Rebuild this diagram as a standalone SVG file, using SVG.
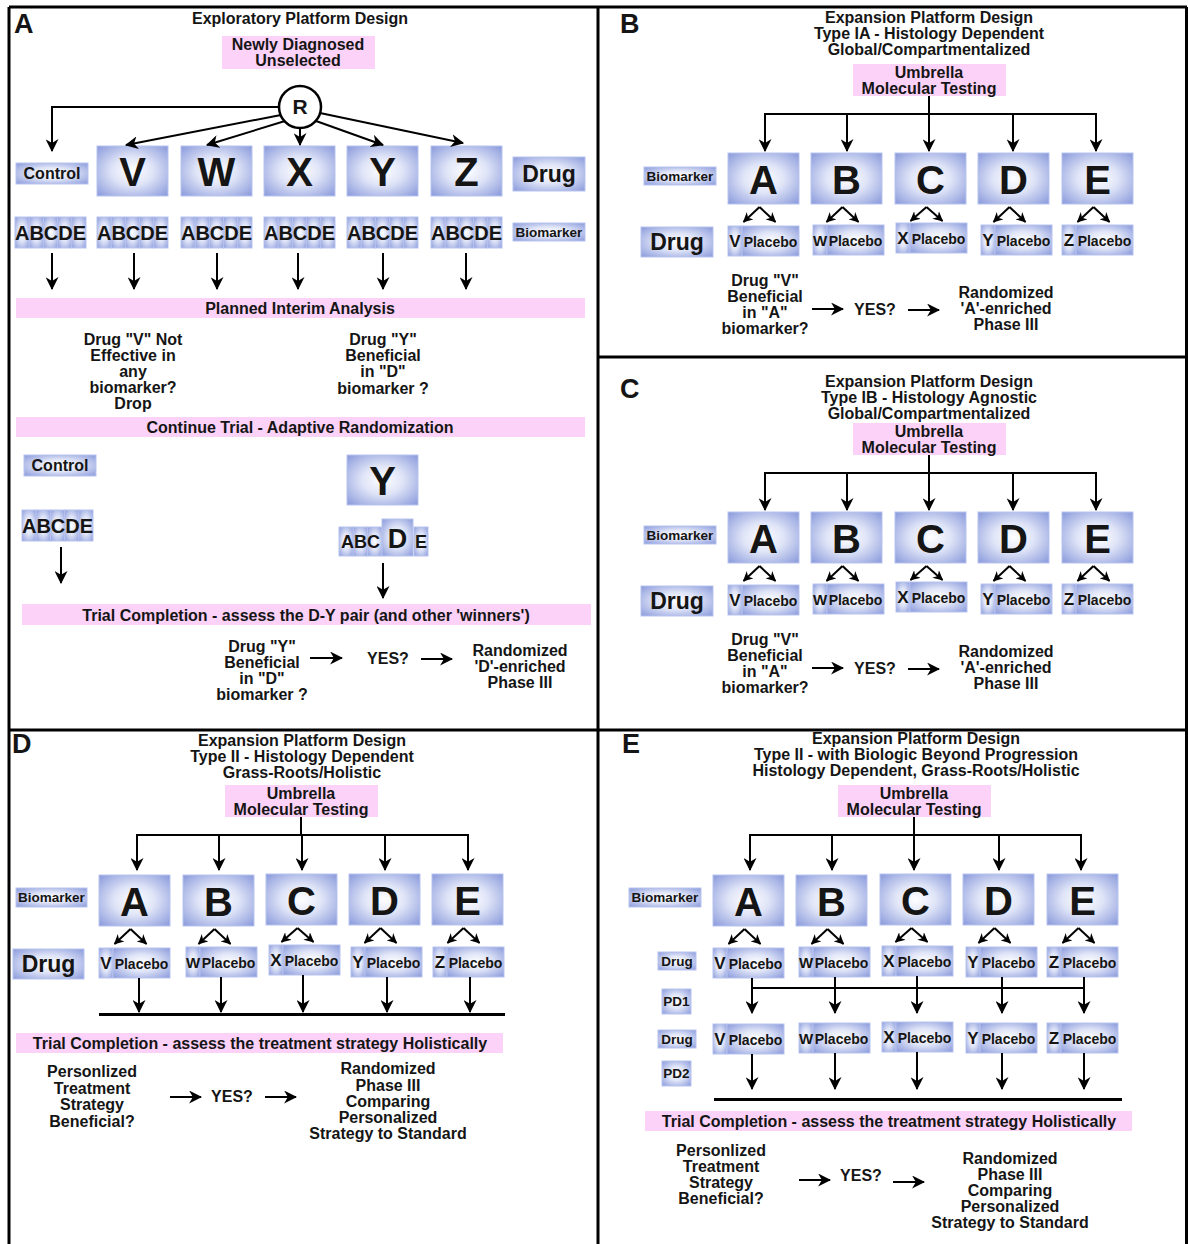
<svg xmlns="http://www.w3.org/2000/svg" xmlns:xlink="http://www.w3.org/1999/xlink" width="1188" height="1244" viewBox="0 0 1188 1244">
<style>
.t{font-family:"Liberation Sans",Arial,sans-serif;font-weight:bold;fill:#151515;text-anchor:middle;font-size:16px}
.lab{font-size:27px;text-anchor:start}
.big{font-size:40px}
.drug{font-size:23px}
.sm{font-size:13.5px}
.cell{font-size:20px}
.v{font-size:17px}
.w{font-size:15px}
.pl{font-size:14px}
.pk{fill:#fcd2f8}
.bx{fill:url(#bg);stroke:#b8c3ee;stroke-width:1}
.ln{stroke:#000;stroke-width:2;fill:none}
.ar{stroke:#000;stroke-width:2;fill:none;marker-end:url(#ah)}
.as{stroke:#000;stroke-width:2;fill:none;marker-end:url(#as)}
.bar{stroke:#000;stroke-width:3;fill:none}
.frame{stroke:#000;stroke-width:3;fill:none}
</style>
<defs>
<radialGradient id="bg" cx="0.5" cy="0.5" r="0.72">
<stop offset="0" stop-color="#ffffff"/>
<stop offset="0.4" stop-color="#dfe4f7"/>
<stop offset="1" stop-color="#8596da"/>
</radialGradient>
<marker id="ah" markerUnits="userSpaceOnUse" markerWidth="13" markerHeight="13" viewBox="0 0 12 12" refX="11" refY="6" orient="auto">
<path d="M0,0 L12,6 L0,12 L3.5,6 z" fill="#000"/>
</marker>
<marker id="as" markerUnits="userSpaceOnUse" markerWidth="10" markerHeight="10" viewBox="0 0 12 12" refX="11" refY="6" orient="auto">
<path d="M0,0 L12,6 L0,12 L3.5,6 z" fill="#000"/>
</marker>
<g id="c5">
<rect class="bx" x="0" y="0" width="14.2" height="31"/>
<rect class="bx" x="14.2" y="0" width="14.2" height="31"/>
<rect class="bx" x="28.4" y="0" width="14.2" height="31"/>
<rect class="bx" x="42.6" y="0" width="14.2" height="31"/>
<rect class="bx" x="56.8" y="0" width="14.2" height="31"/>
</g>
<g id="vp">
<rect class="bx" x="0" y="0" width="14" height="30"/>
<rect class="bx" x="14" y="0" width="57" height="30"/>
</g>
</defs>
<rect width="1188" height="1244" fill="#fff"/>

<!-- frame -->
<g id="frame">
<path class="frame" d="M9,7 H1187 M9,7 V1244 M598,7 V1244 M1186.5,7 V1244 M598,357 H1188 M9,730 H1188"/>
</g>

<!-- ================= PANEL A ================= -->
<g id="panelA-header">
<text class="t lab" x="14" y="33">A</text>
<text class="t" x="300" y="24">Exploratory Platform Design</text>
</g>
<g id="a-newly">
<rect class="pk" x="222" y="36" width="153" height="33"/>
<text class="t" x="298" y="50">Newly Diagnosed</text>
<text class="t" x="298" y="66">Unselected</text>
</g>
<g id="a-R">
<circle cx="300" cy="107" r="21" fill="#fff" stroke="#000" stroke-width="2.5"/>
<text class="t" x="300" y="114" style="font-size:21px">R</text>
</g>
<g id="a-control"><rect class="bx" x="16" y="163" width="72" height="21"/><text class="t" x="52" y="179">Control</text></g>
<g id="a-V"><rect class="bx" x="97" y="146" width="71" height="50"/><text class="t big" x="132.5" y="186">V</text></g>
<g id="a-W"><rect class="bx" x="181" y="146" width="71" height="50"/><text class="t big" x="216.5" y="186">W</text></g>
<g id="a-X"><rect class="bx" x="264" y="146" width="71" height="50"/><text class="t big" x="299.5" y="186">X</text></g>
<g id="a-Y"><rect class="bx" x="347" y="146" width="71" height="50"/><text class="t big" x="382.5" y="186">Y</text></g>
<g id="a-Z"><rect class="bx" x="431" y="146" width="71" height="50"/><text class="t big" x="466.5" y="186">Z</text></g>
<g id="a-drug"><rect class="bx" x="513" y="157" width="72" height="34"/><text class="t drug" x="549" y="182">Drug</text></g>
<g id="a-strip0"><use xlink:href="#c5" x="15" y="217"/><text class="t cell" x="50.5" y="240">ABCDE</text></g>
<g id="a-strip1"><use xlink:href="#c5" x="97" y="217"/><text class="t cell" x="132.5" y="240">ABCDE</text></g>
<g id="a-strip2"><use xlink:href="#c5" x="181" y="217"/><text class="t cell" x="216.5" y="240">ABCDE</text></g>
<g id="a-strip3"><use xlink:href="#c5" x="264" y="217"/><text class="t cell" x="299.5" y="240">ABCDE</text></g>
<g id="a-strip4"><use xlink:href="#c5" x="347" y="217"/><text class="t cell" x="382.5" y="240">ABCDE</text></g>
<g id="a-strip5"><use xlink:href="#c5" x="431" y="217"/><text class="t cell" x="466.5" y="240">ABCDE</text></g>
<g id="a-biomarker"><rect class="bx" x="513" y="223" width="72" height="18"/><text class="t sm" x="549" y="237">Biomarker</text></g>
<g id="a-interim"><rect class="pk" x="16" y="298" width="569" height="20"/><text class="t" x="300" y="314">Planned Interim Analysis</text></g>
<g id="a-note1">
<text class="t" x="133" y="345">Drug "V" Not</text>
<text class="t" x="133" y="361">Effective in</text>
<text class="t" x="133" y="377">any</text>
<text class="t" x="133" y="393">biomarker?</text>
<text class="t" x="133" y="409">Drop</text>
</g>
<g id="a-note2">
<text class="t" x="383" y="345">Drug "Y"</text>
<text class="t" x="383" y="361">Beneficial</text>
<text class="t" x="383" y="377">in "D"</text>
<text class="t" x="383" y="394">biomarker ?</text>
</g>
<g id="a-continue"><rect class="pk" x="16" y="417" width="569" height="20"/><text class="t" x="300" y="433">Continue Trial - Adaptive Randomization</text></g>
<g id="a-control2"><rect class="bx" x="24" y="455" width="72" height="21"/><text class="t" x="60" y="471">Control</text></g>
<g id="a-strip6"><use xlink:href="#c5" x="22" y="510"/><text class="t cell" x="57.5" y="533">ABCDE</text></g>
<g id="a-Y2"><rect class="bx" x="347" y="455" width="71" height="50"/><text class="t big" x="382.5" y="495">Y</text></g>
<g id="a-strip7">
<rect class="bx" x="339" y="527" width="14.3" height="29"/>
<rect class="bx" x="353.3" y="527" width="14.3" height="29"/>
<rect class="bx" x="367.6" y="527" width="14.4" height="29"/>
<rect class="bx" x="382" y="519" width="31" height="37"/>
<rect class="bx" x="414" y="527" width="14" height="29"/>
<text class="t" x="360.5" y="548" style="font-size:18px">ABC</text>
<text class="t" x="397.5" y="548" style="font-size:27px">D</text>
<text class="t" x="421" y="548" style="font-size:18px">E</text>
</g>
<g id="a-completion"><rect class="pk" x="22" y="604" width="569" height="21"/><text class="t" x="306" y="621">Trial Completion - assess the D-Y pair (and other 'winners')</text></g>
<g id="a-q">
<text class="t" x="262" y="652">Drug "Y"</text>
<text class="t" x="262" y="668">Beneficial</text>
<text class="t" x="262" y="684">in "D"</text>
<text class="t" x="262" y="700">biomarker ?</text>
</g>
<g id="a-yes"><text class="t" x="388" y="664">YES?</text></g>
<g id="a-result">
<text class="t" x="520" y="656">Randomized</text>
<text class="t" x="520" y="672">'D'-enriched</text>
<text class="t" x="520" y="688">Phase III</text>
</g>

<!-- ================= PANEL B ================= -->
<g id="panelB-header">
<text class="t lab" x="620" y="33">B</text>
<text class="t" x="929" y="23">Expansion Platform Design</text>
<text class="t" x="929" y="39">Type IA - Histology Dependent</text>
<text class="t" x="929" y="55">Global/Compartmentalized</text>
</g>
<g id="b-umbrella"><rect class="pk" x="853" y="64" width="153" height="32"/><text class="t" x="929" y="78">Umbrella</text><text class="t" x="929" y="94">Molecular Testing</text></g>
<g id="b-biomarker"><rect class="bx" x="644" y="167" width="72" height="18"/><text class="t sm" x="680" y="181">Biomarker</text></g>
<g id="b-A"><rect class="bx" x="728" y="153" width="71" height="51"/><text class="t big" x="763.5" y="194">A</text></g>
<g id="b-B"><rect class="bx" x="811" y="153" width="71" height="51"/><text class="t big" x="846.5" y="194">B</text></g>
<g id="b-C"><rect class="bx" x="895" y="153" width="71" height="51"/><text class="t big" x="930.5" y="194">C</text></g>
<g id="b-D"><rect class="bx" x="978" y="153" width="71" height="51"/><text class="t big" x="1013.5" y="194">D</text></g>
<g id="b-E"><rect class="bx" x="1062" y="153" width="71" height="51"/><text class="t big" x="1097.5" y="194">E</text></g>
<g id="b-drug"><rect class="bx" x="641" y="227" width="72" height="30"/><text class="t drug" x="677" y="250">Drug</text></g>
<g id="b-V"><use xlink:href="#vp" x="728" y="226"/><text class="t v" x="735" y="247">V</text><text class="t pl" x="770.5" y="247">Placebo</text></g>
<g id="b-W"><use xlink:href="#vp" x="813" y="225"/><text class="t w" x="820" y="246">W</text><text class="t pl" x="855.5" y="246">Placebo</text></g>
<g id="b-X"><use xlink:href="#vp" x="896" y="223"/><text class="t v" x="903" y="244">X</text><text class="t pl" x="938.5" y="244">Placebo</text></g>
<g id="b-Y"><use xlink:href="#vp" x="981" y="225"/><text class="t v" x="988" y="246">Y</text><text class="t pl" x="1023.5" y="246">Placebo</text></g>
<g id="b-Z"><use xlink:href="#vp" x="1062" y="225"/><text class="t v" x="1069" y="246">Z</text><text class="t pl" x="1104.5" y="246">Placebo</text></g>
<g id="b-q">
<text class="t" x="765" y="286">Drug "V"</text>
<text class="t" x="765" y="302">Beneficial</text>
<text class="t" x="765" y="318">in "A"</text>
<text class="t" x="765" y="334">biomarker?</text>
</g>
<g id="b-yes"><text class="t" x="875" y="315">YES?</text></g>
<g id="b-result">
<text class="t" x="1006" y="298">Randomized</text>
<text class="t" x="1006" y="314">'A'-enriched</text>
<text class="t" x="1006" y="330">Phase III</text>
</g>

<!-- ================= PANEL C ================= -->
<g id="panelC-header">
<text class="t lab" x="620" y="398">C</text>
<text class="t" x="929" y="387">Expansion Platform Design</text>
<text class="t" x="929" y="403">Type IB - Histology Agnostic</text>
<text class="t" x="929" y="419">Global/Compartmentalized</text>
</g>
<g id="c-umbrella"><rect class="pk" x="853" y="423" width="153" height="32"/><text class="t" x="929" y="437">Umbrella</text><text class="t" x="929" y="453">Molecular Testing</text></g>
<g id="c-biomarker"><rect class="bx" x="644" y="526" width="72" height="18"/><text class="t sm" x="680" y="540">Biomarker</text></g>
<g id="c-A"><rect class="bx" x="728" y="512" width="71" height="51"/><text class="t big" x="763.5" y="553">A</text></g>
<g id="c-B"><rect class="bx" x="811" y="512" width="71" height="51"/><text class="t big" x="846.5" y="553">B</text></g>
<g id="c-C"><rect class="bx" x="895" y="512" width="71" height="51"/><text class="t big" x="930.5" y="553">C</text></g>
<g id="c-D"><rect class="bx" x="978" y="512" width="71" height="51"/><text class="t big" x="1013.5" y="553">D</text></g>
<g id="c-E"><rect class="bx" x="1062" y="512" width="71" height="51"/><text class="t big" x="1097.5" y="553">E</text></g>
<g id="c-drug"><rect class="bx" x="641" y="586" width="72" height="30"/><text class="t drug" x="677" y="609">Drug</text></g>
<g id="c-V"><use xlink:href="#vp" x="728" y="585"/><text class="t v" x="735" y="606">V</text><text class="t pl" x="770.5" y="606">Placebo</text></g>
<g id="c-W"><use xlink:href="#vp" x="813" y="584"/><text class="t w" x="820" y="605">W</text><text class="t pl" x="855.5" y="605">Placebo</text></g>
<g id="c-X"><use xlink:href="#vp" x="896" y="582"/><text class="t v" x="903" y="603">X</text><text class="t pl" x="938.5" y="603">Placebo</text></g>
<g id="c-Y"><use xlink:href="#vp" x="981" y="584"/><text class="t v" x="988" y="605">Y</text><text class="t pl" x="1023.5" y="605">Placebo</text></g>
<g id="c-Z"><use xlink:href="#vp" x="1062" y="584"/><text class="t v" x="1069" y="605">Z</text><text class="t pl" x="1104.5" y="605">Placebo</text></g>
<g id="c-q">
<text class="t" x="765" y="645">Drug "V"</text>
<text class="t" x="765" y="661">Beneficial</text>
<text class="t" x="765" y="677">in "A"</text>
<text class="t" x="765" y="693">biomarker?</text>
</g>
<g id="c-yes"><text class="t" x="875" y="674">YES?</text></g>
<g id="c-result">
<text class="t" x="1006" y="657">Randomized</text>
<text class="t" x="1006" y="673">'A'-enriched</text>
<text class="t" x="1006" y="689">Phase III</text>
</g>

<!-- ================= PANEL D ================= -->
<g id="panelD-header">
<text class="t lab" x="12" y="753">D</text>
<text class="t" x="302" y="746">Expansion Platform Design</text>
<text class="t" x="302" y="762">Type II - Histology Dependent</text>
<text class="t" x="302" y="778">Grass-Roots/Holistic</text>
</g>
<g id="d-umbrella"><rect class="pk" x="225" y="785" width="153" height="32"/><text class="t" x="301" y="799">Umbrella</text><text class="t" x="301" y="815">Molecular Testing</text></g>
<g id="d-biomarker"><rect class="bx" x="16" y="888" width="71" height="19"/><text class="t sm" x="51.5" y="902">Biomarker</text></g>
<g id="d-A"><rect class="bx" x="99" y="875" width="71" height="51"/><text class="t big" x="134.5" y="916">A</text></g>
<g id="d-B"><rect class="bx" x="183" y="875" width="71" height="51"/><text class="t big" x="218.5" y="916">B</text></g>
<g id="d-C"><rect class="bx" x="266" y="874" width="71" height="51"/><text class="t big" x="301.5" y="915">C</text></g>
<g id="d-D"><rect class="bx" x="349" y="874" width="71" height="51"/><text class="t big" x="384.5" y="915">D</text></g>
<g id="d-E"><rect class="bx" x="432" y="874" width="71" height="51"/><text class="t big" x="467.5" y="915">E</text></g>
<g id="d-drug"><rect class="bx" x="13" y="949" width="71" height="30"/><text class="t drug" x="48.5" y="972">Drug</text></g>
<g id="d-V"><use xlink:href="#vp" x="99" y="948"/><text class="t v" x="106" y="969">V</text><text class="t pl" x="141.5" y="969">Placebo</text></g>
<g id="d-W"><use xlink:href="#vp" x="186" y="947"/><text class="t w" x="193" y="968">W</text><text class="t pl" x="228.5" y="968">Placebo</text></g>
<g id="d-X"><use xlink:href="#vp" x="269" y="945"/><text class="t v" x="276" y="966">X</text><text class="t pl" x="311.5" y="966">Placebo</text></g>
<g id="d-Y"><use xlink:href="#vp" x="351" y="947"/><text class="t v" x="358" y="968">Y</text><text class="t pl" x="393.5" y="968">Placebo</text></g>
<g id="d-Z"><use xlink:href="#vp" x="433" y="947"/><text class="t v" x="440" y="968">Z</text><text class="t pl" x="475.5" y="968">Placebo</text></g>
<g id="d-completion"><rect class="pk" x="16" y="1033" width="487" height="20"/><text class="t" x="260" y="1049">Trial Completion - assess the treatment strategy Holistically</text></g>
<g id="d-q">
<text class="t" x="92" y="1077">Personlized</text>
<text class="t" x="92" y="1094">Treatment</text>
<text class="t" x="92" y="1110">Strategy</text>
<text class="t" x="92" y="1127">Beneficial?</text>
</g>
<g id="d-yes"><text class="t" x="232" y="1102">YES?</text></g>
<g id="d-result">
<text class="t" x="388" y="1074">Randomized</text>
<text class="t" x="388" y="1091">Phase III</text>
<text class="t" x="388" y="1107">Comparing</text>
<text class="t" x="388" y="1123">Personalized</text>
<text class="t" x="388" y="1139">Strategy to Standard</text>
</g>

<!-- ================= PANEL E ================= -->
<g id="panelE-header">
<text class="t lab" x="622" y="753">E</text>
<text class="t" x="916" y="744">Expansion Platform Design</text>
<text class="t" x="916" y="760">Type II - with Biologic Beyond Progression</text>
<text class="t" x="916" y="776">Histology Dependent, Grass-Roots/Holistic</text>
</g>
<g id="e-umbrella"><rect class="pk" x="838" y="785" width="153" height="32"/><text class="t" x="914" y="799">Umbrella</text><text class="t" x="914" y="815">Molecular Testing</text></g>
<g id="e-biomarker"><rect class="bx" x="629" y="888" width="72" height="19"/><text class="t sm" x="665" y="902">Biomarker</text></g>
<g id="e-A"><rect class="bx" x="713" y="875" width="71" height="51"/><text class="t big" x="748.5" y="916">A</text></g>
<g id="e-B"><rect class="bx" x="796" y="875" width="71" height="51"/><text class="t big" x="831.5" y="916">B</text></g>
<g id="e-C"><rect class="bx" x="880" y="874" width="71" height="51"/><text class="t big" x="915.5" y="915">C</text></g>
<g id="e-D"><rect class="bx" x="963" y="874" width="71" height="51"/><text class="t big" x="998.5" y="915">D</text></g>
<g id="e-E"><rect class="bx" x="1047" y="874" width="71" height="51"/><text class="t big" x="1082.5" y="915">E</text></g>
<g id="e-drug1"><rect class="bx" x="658" y="952" width="38" height="18"/><text class="t sm" x="677" y="966">Drug</text></g>
<g id="e-V1"><use xlink:href="#vp" x="713" y="948"/><text class="t v" x="720" y="969">V</text><text class="t pl" x="755.5" y="969">Placebo</text></g>
<g id="e-W1"><use xlink:href="#vp" x="799" y="947"/><text class="t w" x="806" y="968">W</text><text class="t pl" x="841.5" y="968">Placebo</text></g>
<g id="e-X1"><use xlink:href="#vp" x="882" y="946"/><text class="t v" x="889" y="967">X</text><text class="t pl" x="924.5" y="967">Placebo</text></g>
<g id="e-Y1"><use xlink:href="#vp" x="966" y="947"/><text class="t v" x="973" y="968">Y</text><text class="t pl" x="1008.5" y="968">Placebo</text></g>
<g id="e-Z1"><use xlink:href="#vp" x="1047" y="947"/><text class="t v" x="1054" y="968">Z</text><text class="t pl" x="1089.5" y="968">Placebo</text></g>
<g id="e-pd1"><rect class="bx" x="662" y="989" width="29" height="25"/><text class="t sm" x="676.5" y="1006">PD1</text></g>
<g id="e-drug2"><rect class="bx" x="658" y="1030" width="38" height="18"/><text class="t sm" x="677" y="1044">Drug</text></g>
<g id="e-V2"><use xlink:href="#vp" x="713" y="1024"/><text class="t v" x="720" y="1045">V</text><text class="t pl" x="755.5" y="1045">Placebo</text></g>
<g id="e-W2"><use xlink:href="#vp" x="799" y="1023"/><text class="t w" x="806" y="1044">W</text><text class="t pl" x="841.5" y="1044">Placebo</text></g>
<g id="e-X2"><use xlink:href="#vp" x="882" y="1022"/><text class="t v" x="889" y="1043">X</text><text class="t pl" x="924.5" y="1043">Placebo</text></g>
<g id="e-Y2"><use xlink:href="#vp" x="966" y="1023"/><text class="t v" x="973" y="1044">Y</text><text class="t pl" x="1008.5" y="1044">Placebo</text></g>
<g id="e-Z2"><use xlink:href="#vp" x="1047" y="1023"/><text class="t v" x="1054" y="1044">Z</text><text class="t pl" x="1089.5" y="1044">Placebo</text></g>
<g id="e-pd2"><rect class="bx" x="662" y="1061" width="29" height="25"/><text class="t sm" x="676.5" y="1078">PD2</text></g>
<g id="e-completion"><rect class="pk" x="645" y="1111" width="487" height="20"/><text class="t" x="889" y="1127">Trial Completion - assess the treatment strategy Holistically</text></g>
<g id="e-q">
<text class="t" x="721" y="1156">Personlized</text>
<text class="t" x="721" y="1172">Treatment</text>
<text class="t" x="721" y="1188">Strategy</text>
<text class="t" x="721" y="1204">Beneficial?</text>
</g>
<g id="e-yes"><text class="t" x="861" y="1181">YES?</text></g>
<g id="e-result">
<text class="t" x="1010" y="1164">Randomized</text>
<text class="t" x="1010" y="1180">Phase III</text>
<text class="t" x="1010" y="1196">Comparing</text>
<text class="t" x="1010" y="1212">Personalized</text>
<text class="t" x="1010" y="1228">Strategy to Standard</text>
</g>

<!-- ================= CONNECTORS ================= -->
<g id="connectors">
<!-- A -->
<path class="ar" d="M279,107 H52 V151"/>
<path class="ar" d="M281,115 L126,145"/>
<path class="ar" d="M285,121 L207,145"/>
<path class="ar" d="M300,128 L300,145"/>
<path class="ar" d="M316,121 L383,145"/>
<path class="ar" d="M320,113 L463,143"/>
<path class="ar" d="M52,253 V289"/>
<path class="ar" d="M134,253 V289"/>
<path class="ar" d="M217,253 V289"/>
<path class="ar" d="M298,253 V289"/>
<path class="ar" d="M383,253 V289"/>
<path class="ar" d="M466,253 V289"/>
<path class="ar" d="M61,547 V583"/>
<path class="ar" d="M383,563 V598"/>
<path class="ar" d="M310,658 H342"/>
<path class="ar" d="M421,659 H452"/>
<!-- B -->
<path class="ln" d="M929,96 V114 M765,114 H1096"/>
<path class="ar" d="M765,113 V151"/>
<path class="ar" d="M847,113 V151"/>
<path class="ar" d="M929,113 V151"/>
<path class="ar" d="M1013,113 V151"/>
<path class="ar" d="M1096,113 V151"/>
<path class="as" d="M759.5,207 L743.5,222"/>
<path class="as" d="M759.5,207 L775.5,222"/>
<path class="as" d="M842.5,207 L826.5,222"/>
<path class="as" d="M842.5,207 L858.5,222"/>
<path class="as" d="M926.5,207 L910.5,221"/>
<path class="as" d="M926.5,207 L942.5,221"/>
<path class="as" d="M1009.5,207 L993.5,222"/>
<path class="as" d="M1009.5,207 L1025.5,222"/>
<path class="as" d="M1093.5,207 L1077.5,222"/>
<path class="as" d="M1093.5,207 L1109.5,222"/>
<path class="ar" d="M812,309 H843"/>
<path class="ar" d="M908,310 H939"/>
<!-- C -->
<path class="ln" d="M929,455 V473 M765,473 H1096"/>
<path class="ar" d="M765,472 V510"/>
<path class="ar" d="M847,472 V510"/>
<path class="ar" d="M929,472 V510"/>
<path class="ar" d="M1013,472 V510"/>
<path class="ar" d="M1096,472 V510"/>
<path class="as" d="M759.5,566 L743.5,581"/>
<path class="as" d="M759.5,566 L775.5,581"/>
<path class="as" d="M842.5,566 L826.5,581"/>
<path class="as" d="M842.5,566 L858.5,581"/>
<path class="as" d="M926.5,566 L910.5,580"/>
<path class="as" d="M926.5,566 L942.5,580"/>
<path class="as" d="M1009.5,566 L993.5,581"/>
<path class="as" d="M1009.5,566 L1025.5,581"/>
<path class="as" d="M1093.5,566 L1077.5,581"/>
<path class="as" d="M1093.5,566 L1109.5,581"/>
<path class="ar" d="M812,668 H843"/>
<path class="ar" d="M908,669 H939"/>
<!-- D -->
<path class="ln" d="M301,817 V835 M137,835 H468"/>
<path class="ar" d="M137,834 V870"/>
<path class="ar" d="M219,834 V870"/>
<path class="ar" d="M302,834 V870"/>
<path class="ar" d="M385,834 V870"/>
<path class="ar" d="M468,834 V870"/>
<path class="as" d="M130.5,929 L114.5,944"/>
<path class="as" d="M130.5,929 L146.5,944"/>
<path class="as" d="M214.5,929 L198.5,944"/>
<path class="as" d="M214.5,929 L230.5,944"/>
<path class="as" d="M297.5,928 L281.5,942"/>
<path class="as" d="M297.5,928 L313.5,942"/>
<path class="as" d="M380.5,928 L364.5,943"/>
<path class="as" d="M380.5,928 L396.5,943"/>
<path class="as" d="M463.5,928 L447.5,943"/>
<path class="as" d="M463.5,928 L479.5,943"/>
<path class="ar" d="M139,978 V1012"/>
<path class="ar" d="M221,977 V1012"/>
<path class="ar" d="M303,975 V1012"/>
<path class="ar" d="M387,977 V1012"/>
<path class="ar" d="M470,977 V1012"/>
<path class="bar" d="M99,1014.5 H505"/>
<path class="ar" d="M170,1097 H201"/>
<path class="ar" d="M265,1097 H296"/>
<!-- E -->
<path class="ln" d="M914,817 V835 M750,835 H1081"/>
<path class="ar" d="M750,834 V870"/>
<path class="ar" d="M832,834 V870"/>
<path class="ar" d="M914,834 V870"/>
<path class="ar" d="M999,834 V870"/>
<path class="ar" d="M1081,834 V870"/>
<path class="as" d="M744.5,929 L728.5,944"/>
<path class="as" d="M744.5,929 L760.5,944"/>
<path class="as" d="M827.5,929 L811.5,944"/>
<path class="as" d="M827.5,929 L843.5,944"/>
<path class="as" d="M911.5,928 L895.5,942"/>
<path class="as" d="M911.5,928 L927.5,942"/>
<path class="as" d="M994.5,928 L978.5,943"/>
<path class="as" d="M994.5,928 L1010.5,943"/>
<path class="as" d="M1078.5,928 L1062.5,943"/>
<path class="as" d="M1078.5,928 L1094.5,943"/>
<path class="ln" d="M752,988 H1084"/>
<path class="ar" d="M752,978 V1013"/>
<path class="ar" d="M835,977 V1013"/>
<path class="ar" d="M917,976 V1013"/>
<path class="ar" d="M1002,977 V1013"/>
<path class="ar" d="M1084,977 V1013"/>
<path class="ar" d="M752,1054 V1089"/>
<path class="ar" d="M835,1053 V1089"/>
<path class="ar" d="M917,1052 V1089"/>
<path class="ar" d="M1002,1053 V1089"/>
<path class="ar" d="M1084,1053 V1089"/>
<path class="bar" d="M714,1099.5 H1122"/>
<path class="ar" d="M799,1180 H830"/>
<path class="ar" d="M893,1182 H924"/>
</g>
</svg>
